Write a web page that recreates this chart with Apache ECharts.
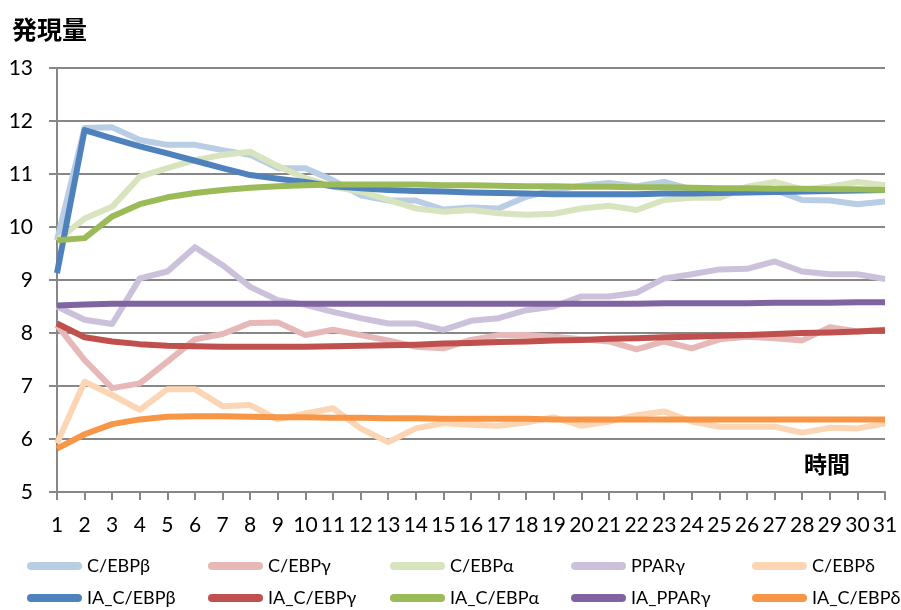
<!DOCTYPE html>
<html>
<head>
<meta charset="utf-8">
<script src="https://cdn.jsdelivr.net/npm/echarts@6/dist/echarts.min.js"></script>
<style>
  html, body { margin: 0; padding: 0; background: #fff; }
  #chart { width: 901px; height: 610px; }
</style>
</head>
<body>
<div id="chart"></div>
<script>
// Time points (horizontal axis)
const timePoints = ['1','2','3','4','5','6','7','8','9','10','11','12','13','14','15','16',
  '17','18','19','20','21','22','23','24','25','26','27','28','29','30','31'];

// Measured expression levels
const cebpB = [9.75, 11.87, 11.88, 11.64, 11.55, 11.55, 11.45, 11.36, 11.11, 11.11, 10.88, 10.60, 10.50, 10.50, 10.33, 10.37,
  10.35, 10.57, 10.70, 10.78, 10.83, 10.77, 10.85, 10.71, 10.70, 10.70, 10.70, 10.51, 10.50, 10.43, 10.48];
const cebpG = [8.15, 7.49, 6.96, 7.05, 7.46, 7.88, 7.98, 8.19, 8.20, 7.96, 8.06, 7.96, 7.86, 7.74, 7.71, 7.87,
  7.96, 7.96, 7.93, 7.88, 7.84, 7.69, 7.84, 7.71, 7.88, 7.93, 7.90, 7.86, 8.11, 8.03, 8.06];
const cebpA = [9.75, 10.16, 10.38, 10.95, 11.11, 11.26, 11.36, 11.42, 11.15, 10.92, 10.76, 10.67, 10.51, 10.35, 10.29, 10.32,
  10.26, 10.23, 10.25, 10.35, 10.40, 10.32, 10.51, 10.55, 10.55, 10.76, 10.85, 10.71, 10.76, 10.85, 10.79];
const pparG = [8.50, 8.25, 8.17, 9.03, 9.16, 9.62, 9.28, 8.87, 8.62, 8.53, 8.40, 8.28, 8.18, 8.18, 8.06, 8.23,
  8.28, 8.43, 8.50, 8.69, 8.69, 8.76, 9.03, 9.11, 9.20, 9.21, 9.35, 9.16, 9.11, 9.11, 9.02];
const cebpD = [5.92, 7.08, 6.83, 6.55, 6.94, 6.94, 6.62, 6.64, 6.37, 6.48, 6.58, 6.20, 5.94, 6.20, 6.30, 6.27,
  6.25, 6.31, 6.41, 6.25, 6.33, 6.45, 6.52, 6.33, 6.23, 6.23, 6.23, 6.12, 6.21, 6.20, 6.29];

// Model (IA_) expression levels
const iaCebpB = [9.13, 11.83, 11.67, 11.52, 11.39, 11.25, 11.11, 10.98, 10.91, 10.85, 10.77, 10.73, 10.70, 10.68, 10.67, 10.65,
  10.64, 10.63, 10.62, 10.62, 10.62, 10.62, 10.63, 10.63, 10.64, 10.65, 10.66, 10.67, 10.68, 10.69, 10.70];
const iaCebpG = [8.18, 7.92, 7.84, 7.79, 7.76, 7.75, 7.74, 7.74, 7.74, 7.74, 7.75, 7.76, 7.77, 7.78, 7.80, 7.81,
  7.83, 7.84, 7.86, 7.87, 7.89, 7.90, 7.92, 7.93, 7.95, 7.96, 7.98, 8.00, 8.01, 8.03, 8.05];
const iaCebpA = [9.75, 9.79, 10.20, 10.43, 10.56, 10.64, 10.70, 10.74, 10.77, 10.79, 10.80, 10.80, 10.80, 10.80, 10.79, 10.79,
  10.78, 10.77, 10.77, 10.76, 10.76, 10.75, 10.75, 10.74, 10.73, 10.73, 10.72, 10.72, 10.71, 10.71, 10.70];
const iaPparG = [8.52, 8.54, 8.55, 8.55, 8.55, 8.55, 8.55, 8.55, 8.55, 8.55, 8.55, 8.55, 8.55, 8.55, 8.55, 8.55,
  8.55, 8.55, 8.55, 8.55, 8.55, 8.55, 8.56, 8.56, 8.56, 8.56, 8.57, 8.57, 8.57, 8.58, 8.58];
const iaCebpD = [5.82, 6.09, 6.28, 6.37, 6.42, 6.43, 6.43, 6.42, 6.41, 6.41, 6.40, 6.40, 6.39, 6.39, 6.38, 6.38,
  6.38, 6.38, 6.37, 6.37, 6.37, 6.37, 6.37, 6.37, 6.37, 6.37, 6.37, 6.37, 6.37, 6.37, 6.37];

const seriesNames = ['C/EBPβ', 'C/EBPγ', 'C/EBPα', 'PPARγ', 'C/EBPδ',
  'IA_C/EBPβ', 'IA_C/EBPγ', 'IA_C/EBPα', 'IA_PPARγ', 'IA_C/EBPδ'];
const seriesData = [cebpB, cebpG, cebpA, pparG, cebpD, iaCebpB, iaCebpG, iaCebpA, iaPparG, iaCebpD];
const seriesColors = ['#B9CDE5', '#E6B9B8', '#D7E4BD', '#CCC1DA', '#FCD5B5',
  '#4F81BD', '#C0504D', '#9BBB59', '#8064A2', '#F79646'];

const numFont = 'Lato, "Open Sans", sans-serif';
const cjkFont = '"Noto Sans CJK JP", "Noto Sans", sans-serif';
const gridGray = '#878787';

// Legend: five columns, two rows; one legend block per entry
const legendIcon = 'path://M4,0 L51,0 A4,4 0 0 1 51,8 L4,8 A4,4 0 0 1 4,0 Z';
const legendColLeft = [27, 208, 390, 571, 752];
const legendRowTop = [557, 589];
const legends = seriesNames.map((name, i) => ({
  data: [name],
  left: legendColLeft[i % 5],
  top: legendRowTop[Math.floor(i / 5)],
  width: 149,
  padding: 0,
  icon: legendIcon,
  itemWidth: 55,
  itemHeight: 8,
  textStyle: { fontFamily: numFont, fontSize: 18, color: '#000' }
}));

const chart = echarts.init(document.getElementById('chart'), null, { renderer: 'canvas' });
chart.setOption({
  animation: false,
  backgroundColor: '#fff',
  grid: { left: 57, right: 16, top: 68, bottom: 118, containLabel: false },
  legend: legends,
  graphic: [
    { type: 'text', left: 12, top: 17,
      style: { text: '発現量', font: 'bold 25px ' + cjkFont, fill: '#000' } },
    { type: 'text', left: 804, top: 453,
      style: { text: '時間', font: 'bold 23px ' + cjkFont, fill: '#000' } }
  ],
  xAxis: {
    type: 'category',
    data: timePoints,
    boundaryGap: false,
    axisLine: { lineStyle: { color: gridGray, width: 2 } },
    axisTick: { show: true, length: 8, interval: 0, lineStyle: { color: gridGray, width: 2 } },
    axisLabel: { interval: 0, margin: 23, fontFamily: numFont, fontSize: 21, color: '#000' },
    splitLine: { show: false }
  },
  yAxis: {
    type: 'value',
    min: 5,
    max: 13,
    interval: 1,
    axisLine: { show: true, lineStyle: { color: gridGray, width: 2 } },
    axisTick: { show: true, length: 8, lineStyle: { color: gridGray, width: 2 } },
    axisLabel: { margin: 24, fontFamily: numFont, fontSize: 21, color: '#000' },
    splitLine: { show: true, lineStyle: { color: gridGray, width: 2 } }
  },
  series: seriesNames.map((name, i) => ({
    name: name,
    type: 'line',
    data: seriesData[i],
    showSymbol: false,
    symbol: 'none',
    smooth: false,
    color: seriesColors[i],
    lineStyle: { width: 6, color: seriesColors[i], join: 'round' },
    emphasis: { disabled: true }
  }))
});
</script>
</body>
</html>
